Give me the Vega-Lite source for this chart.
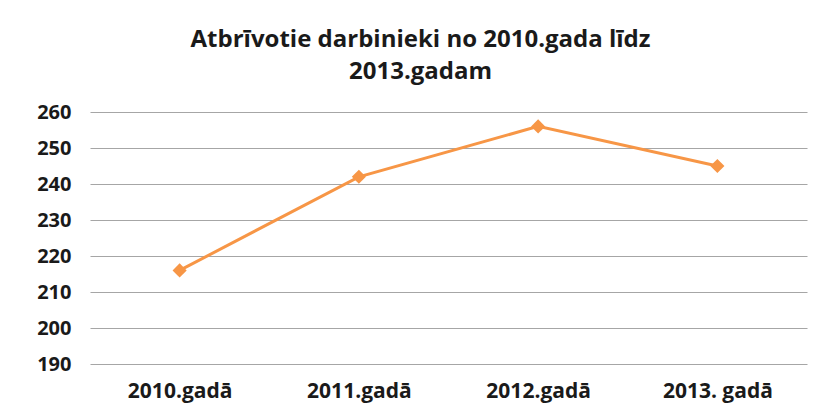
{
  "$schema": "https://vega.github.io/schema/vega-lite/v6.json",
  "autosize": {"type": "none"},
  "width": 717,
  "height": 252,
  "padding": {"left": 90, "top": 112, "right": 12, "bottom": 47},
  "background": "white",
  "title": {
    "text": ["Atbrīvotie darbinieki no 2010.gada līdz", "2013.gadam"],
    "anchor": "middle",
    "dx": -28,
    "offset": 18,
    "font": "Open Sans",
    "fontSize": 24,
    "fontWeight": "bold",
    "color": "#1a1a1a",
    "lineHeight": 32
  },
  "config": {
    "view": {"stroke": null},
    "axis": {
      "labelFont": "Open Sans",
      "labelFontWeight": "bold",
      "labelFontSize": 21,
      "labelColor": "#1a1a1a",
      "domain": false,
      "ticks": false,
      "title": null
    }
  },
  "data": {
    "values": [
      {"year": "2010.gadā", "value": 216},
      {"year": "2011.gadā", "value": 242},
      {"year": "2012.gadā", "value": 256},
      {"year": "2013. gadā", "value": 245}
    ]
  },
  "encoding": {
    "x": {
      "field": "year",
      "type": "nominal",
      "sort": null,
      "scale": {"paddingInner": 0, "paddingOuter": 0},
      "axis": {"labelAngle": 0, "labelPadding": 16, "grid": false}
    },
    "y": {
      "field": "value",
      "type": "quantitative",
      "scale": {"domain": [190, 260], "nice": false, "zero": false},
      "axis": {
        "values": [190, 200, 210, 220, 230, 240, 250, 260],
        "grid": true,
        "gridColor": "#a6a6a6",
        "gridWidth": 1.2,
        "labelFontSize": 20,
        "labelPadding": 19
      }
    }
  },
  "mark": {
    "type": "line",
    "color": "#f79646",
    "strokeWidth": 3,
    "point": {"shape": "diamond", "size": 200, "filled": true, "color": "#f79646", "opacity": 1}
  }
}
